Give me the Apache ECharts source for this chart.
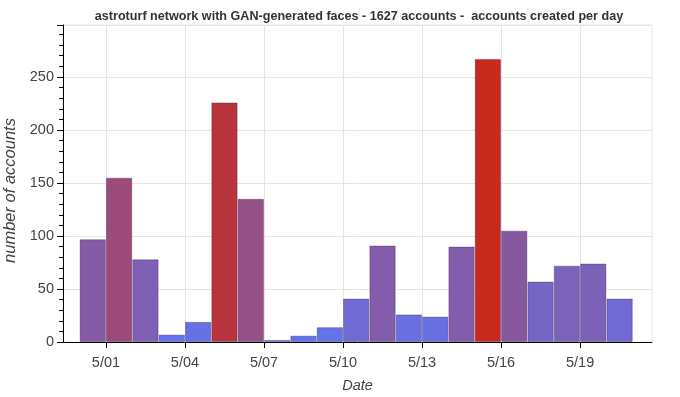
<!DOCTYPE html>
<html>
<head>
<meta charset="utf-8">
<script src="https://cdn.jsdelivr.net/npm/echarts@6/dist/echarts.min.js"></script>
<style>
  html, body { margin: 0; padding: 0; background: #fff; }
  #chart { width: 680px; height: 397px; }
</style>
</head>
<body>
<div id="chart"></div>
<script>
// one bar per day, 4/30 .. 5/20
const days = ['4/30', '5/01', '5/02', '5/03', '5/04', '5/05', '5/06', '5/07', '5/08', '5/09', '5/10',
    '5/11', '5/12', '5/13', '5/14', '5/15', '5/16', '5/17', '5/18', '5/19', '5/20'];
const accounts = [97, 155, 78, 7, 19, 226, 135, 2, 6, 14, 41, 91, 26, 24, 90, 267, 105, 57, 72, 74, 41];
const tickDays = ['5/01', '5/04', '5/07', '5/10', '5/13', '5/16', '5/19'];

const font = '"Liberation Sans", Helvetica, Arial, sans-serif';

// a day is drawn from its midnight to the next one
const barData = days.map((d, i) => [i + 0.5, accounts[i]]);
const tickValues = tickDays.map((d) => days.indexOf(d));

const chart = echarts.init(document.getElementById('chart'), null, { renderer: 'canvas' });

chart.setOption({
    animation: false,
    title: {
        text: 'astroturf network with GAN-generated faces - 1627 accounts -  accounts created per day',
        left: 354,
        top: 5,
        textAlign: 'center',
        textStyle: {
            fontFamily: font,
            fontSize: 12.6,
            fontWeight: 'bold',
            color: '#333'
        }
    },
    grid: {
        left: 63,
        right: 28,
        top: 25,
        bottom: 55,
        containLabel: false,
        outerBoundsMode: 'none',
        show: true,
        borderColor: '#e5e5e5',
        borderWidth: 1
    },
    visualMap: {
        show: false,
        type: 'continuous',
        dimension: 1,
        min: 0,
        max: 267,
        inRange: { color: ['#5f77f4', '#c8291d'] }
    },
    xAxis: {
        type: 'value',
        min: -0.63,
        max: 21.73,
        name: 'Date',
        nameLocation: 'middle',
        nameGap: 36,
        nameTextStyle: {
            fontFamily: font,
            fontSize: 14.5,
            fontStyle: 'italic',
            color: '#444'
        },
        axisLine: { onZero: false, lineStyle: { color: '#000', width: 1 } },
        axisTick: { customValues: tickValues, length: 6, lineStyle: { color: '#000' } },
        axisLabel: {
            customValues: tickValues,
            formatter: (v) => days[Math.round(v)],
            fontFamily: font,
            fontSize: 14.5,
            color: '#444',
            margin: 13
        },
        splitLine: { show: true, lineStyle: { color: '#e5e5e5' } }
    },
    yAxis: {
        type: 'value',
        min: 0,
        max: 299,
        interval: 50,
        name: 'number of accounts',
        nameLocation: 'middle',
        nameGap: 40,
        nameTextStyle: {
            fontFamily: font,
            fontSize: 16.5,
            fontStyle: 'italic',
            color: '#444',
            padding: [0, 14, 0, 0]
        },
        axisLine: { show: true, onZero: false, lineStyle: { color: '#000', width: 1 } },
        axisTick: { show: true, length: 6, lineStyle: { color: '#000' } },
        minorTick: { show: true, splitNumber: 5, length: 4, lineStyle: { color: '#000' } },
        axisLabel: {
            showMaxLabel: false,
            fontFamily: font,
            fontSize: 14.5,
            color: '#444',
            margin: 9
        },
        splitLine: { show: true, lineStyle: { color: '#e5e5e5' } }
    },
    series: [
        {
            type: 'bar',
            data: barData,
            barWidth: '100%',
            itemStyle: {
                borderColor: 'rgba(50,20,70,0.3)',
                borderWidth: 1
            }
        }
    ]
});
</script>
</body>
</html>
